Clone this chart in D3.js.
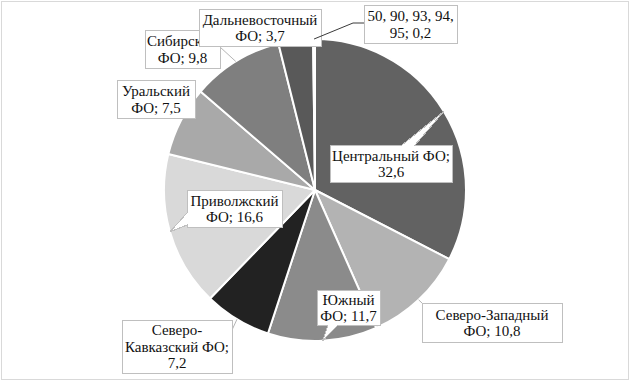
<!DOCTYPE html>
<html>
<head>
<meta charset="utf-8">
<script src="https://cdn.jsdelivr.net/npm/d3@7"></script>
<style>
  body { margin: 0; background: #fff; }
  svg { display: block; }
</style>
</head>
<body>
<svg id="chart" width="630" height="381"></svg>
<script>
// federal districts and their shares, %
const regions = ["Центральный ФО", "Северо-Западный ФО", "Южный ФО", "Северо-Кавказский ФО",
  "Приволжский ФО", "Уральский ФО", "Сибирский ФО", "Дальневосточный ФО", "50, 90, 93, 94, 95"];
const shares = [32.6, 10.8, 11.7, 7.2, 16.6, 7.5, 9.8, 3.7, 0.2];
const fills = ["#626262", "#b3b3b3", "#8b8b8b", "#222222", "#d9d9d9", "#a9a9a9", "#7f7f7f", "#595959", "#f2f2f2"];

// label boxes placed by hand, like the original chart: box, words per line, tail or leader
const labelLayout = [
  { box: [330, 145, 122, 37], lines: [2, 1], tail: { side: 0, a: [402, 145], b: [415, 145] } },
  { box: [422, 303, 140, 39], lines: [2, 2], leader: [[422, 303]] },
  { box: [317, 290, 63, 35], lines: [1, 2], tail: { side: 2, a: [338, 325], b: [328, 325] } },
  { box: [122, 320, 110, 53], lines: [1, 2, 1], leader: [[232, 330]] },
  { box: [187, 190, 95, 37], lines: [1, 2], tail: { side: 3, a: [187, 225], b: [187, 213] } },
  { box: [117, 80, 78, 38], lines: [1, 2] },
  { box: [145, 30, 75, 38], lines: [1, 2], leader: [[220, 47]] },
  { box: [199, 9, 122, 37], lines: [1, 2] },
  { box: [364, 5, 93, 38], lines: [4, 2], leader: [[353, 23], [364, 23]], dark: true }
];

const svg = d3.select("#chart");
const cx = 315, cy = 190, r = 151;

svg.append("rect")
  .attr("x", 1.5).attr("y", 1.5)
  .attr("width", 627).attr("height", 378)
  .attr("fill", "#fff")
  .attr("stroke", "#d9d9d9");

const pie = d3.pie().sort(null).value(d => d);
const arcs = pie(shares);
const arc = d3.arc().innerRadius(0).outerRadius(r);
const edge = d3.arc().innerRadius(r).outerRadius(r);

const g = svg.append("g").attr("transform", `translate(${cx},${cy})`);

g.selectAll("path.slice")
  .data(arcs)
  .join("path")
  .attr("class", "slice")
  .attr("d", arc)
  .attr("fill", (d, i) => fills[i])
  .attr("stroke", "#fff")
  .attr("stroke-width", 2)
  .attr("stroke-linejoin", "round");

const fmt = v => String(v).replace(".", ",");

// split "name; value" into words, break after hyphen too, then regroup by line
const labelLines = (i) => {
  const words = `${regions[i]}; ${fmt(shares[i])}`.split(/(?<=-)|\s+/);
  const out = [];
  let k = 0;
  labelLayout[i].lines.forEach(n => {
    const part = words.slice(k, k + n);
    k += n;
    out.push(part.reduce((s, w) => s === "" ? w : (s.endsWith("-") ? s + w : s + " " + w), ""));
  });
  return out;
};

const calloutPath = (box, tail, tip) => {
  const [x0, y0, w, h] = box;
  const x1 = x0 + w, y1 = y0 + h;
  const corners = [[x0, y0], [x1, y0], [x1, y1], [x0, y1]];
  const pts = [];
  corners.forEach((c, i) => {
    pts.push(c);
    if (tail && tail.side === i) pts.push(tail.a, tip, tail.b);
  });
  return "M" + pts.map(p => p.join(",")).join("L") + "Z";
};

const labels = svg.append("g");

arcs.forEach((d, i) => {
  const lay = labelLayout[i];
  const c = edge.centroid(d);
  const tip = [cx + c[0], cy + c[1]];
  const lg = labels.append("g");

  if (lay.leader) {
    lg.append("path")
      .attr("d", d3.line()([tip, ...lay.leader]))
      .attr("fill", "none")
      .attr("stroke", lay.dark ? "#3a3a3a" : "#b5b5b5")
      .attr("stroke-width", 1);
  }

  lg.append("path")
    .attr("d", calloutPath(lay.box, lay.tail, tip))
    .attr("fill", "#fff")
    .attr("stroke", "#bfbfbf")
    .attr("stroke-width", 1)
    .attr("shape-rendering", "crispEdges");

  const lines = labelLines(i);
  const [bx, by, bw, bh] = lay.box;
  const lh = 16.5;
  const top = by + bh / 2 - (lines.length - 1) * lh / 2;
  lg.append("text")
    .attr("font-family", "'Times New Roman'")
    .attr("font-size", 15)
    .attr("fill", "#111")
    .attr("text-anchor", "middle")
    .selectAll("tspan")
    .data(lines)
    .join("tspan")
    .attr("x", bx + bw / 2)
    .attr("y", (t, j) => top + j * lh)
    .attr("dy", "0.35em")
    .text(t => t);
});
</script>
</body>
</html>
